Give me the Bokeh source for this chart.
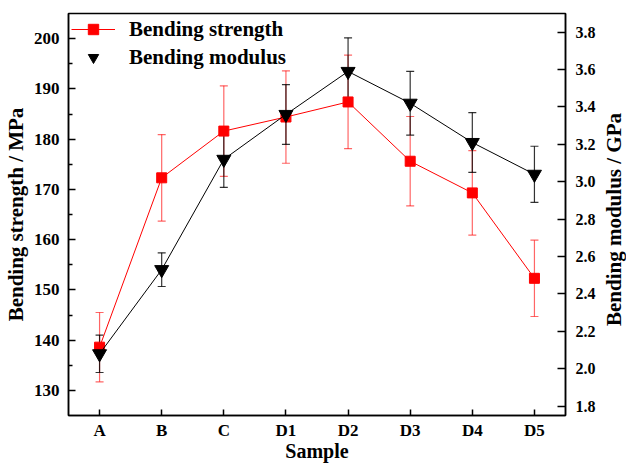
import math
from bokeh.plotting import figure
from bokeh.layouts import row
from bokeh.models import (FactorRange, Range1d, LinearAxis, FixedTicker, Whisker, TeeHead,
                          ColumnDataSource, Legend, LegendItem, PrintfTickFormatter, Div)
from bokeh.embed import file_html
from bokeh.resources import INLINE

samples = ["A", "B", "C", "D1", "D2", "D3", "D4", "D5"]
strength = [138.6, 172.3, 181.6, 184.4, 187.4, 175.6, 169.3, 152.3]
strength_err = [6.9, 8.6, 9.0, 9.2, 9.3, 8.9, 8.4, 7.6]
modulus = [2.08, 2.53, 3.12, 3.36, 3.59, 3.42, 3.21, 3.04]
modulus_err = [0.10, 0.09, 0.15, 0.16, 0.18, 0.17, 0.16, 0.15]
left_ticks = [130, 140, 150, 160, 170, 180, 190, 200]
left_minor = [135, 145, 155, 165, 175, 185, 195]
right_ticks = [1.8, 2.0, 2.2, 2.4, 2.6, 2.8, 3.0, 3.2, 3.4, 3.6, 3.8]

FONT = "Liberation Serif"

p = figure(x_range=FactorRange(*samples), y_range=Range1d(125, 205),
           width=604, height=464, output_backend="svg", toolbar_location=None,
           min_border_left=63, min_border_right=39, min_border_top=13, min_border_bottom=46)
p.extra_y_ranges = {"right": Range1d(1.75, 3.9)}
p.xgrid.visible = False
p.ygrid.visible = False
p.outline_line_color = "black"
p.outline_line_width = 1.5
p.background_fill_color = "white"
p.border_fill_color = "white"

def style_axis(ax, label_size="17px", title_size="21px"):
    ax.axis_line_width = 1.5
    ax.axis_line_color = "black"
    ax.major_tick_line_color = "black"
    ax.major_tick_line_width = 1.5
    ax.minor_tick_line_color = "black"
    ax.minor_tick_line_width = 1.5
    ax.major_tick_out = 0
    ax.minor_tick_out = 0
    ax.major_label_text_font = FONT
    ax.major_label_text_font_style = "bold"
    ax.major_label_text_font_size = label_size
    ax.major_label_text_color = "black"
    ax.axis_label_text_font = FONT
    ax.axis_label_text_font_style = "bold"
    ax.axis_label_text_font_size = title_size
    ax.axis_label_text_color = "black"

# bottom axis
xa = p.xaxis[0]
style_axis(xa, title_size="20px")
xa.axis_label = "Sample"
xa.major_tick_in = 6
xa.major_label_standoff = 5
xa.axis_label_standoff = -3

# left axis
ya = p.yaxis[0]
style_axis(ya)
ya.ticker = FixedTicker(ticks=left_ticks, minor_ticks=left_minor)
ya.axis_label = "Bending strength / MPa"
ya.major_tick_in = 7
ya.minor_tick_in = 4
ya.major_label_standoff = 9
ya.axis_label_standoff = 3

# right axis
ra = LinearAxis(y_range_name="right")
style_axis(ra, "16px")
ra.ticker = FixedTicker(ticks=right_ticks, minor_ticks=[])
ra.formatter = PrintfTickFormatter(format="%.1f")
ra.major_tick_in = 8
ra.minor_tick_in = 0
ra.major_label_standoff = 10
p.add_layout(ra, "right")

# data sources
src_s = ColumnDataSource(dict(x=samples, y=strength,
                              lo=[v - e for v, e in zip(strength, strength_err)],
                              hi=[v + e for v, e in zip(strength, strength_err)]))
src_m = ColumnDataSource(dict(x=samples, y=modulus,
                              lo=[v - e for v, e in zip(modulus, modulus_err)],
                              hi=[v + e for v, e in zip(modulus, modulus_err)]))

RED = "#ff0000"

ws = Whisker(base="x", upper="hi", lower="lo", source=src_s,
             line_color=RED, line_alpha=0.6, line_width=1.2,
             upper_head=TeeHead(size=8, line_color=RED, line_alpha=0.6, line_width=1.2),
             lower_head=TeeHead(size=8, line_color=RED, line_alpha=0.6, line_width=1.2))
p.add_layout(ws)
l_s = p.line("x", "y", source=src_s, line_color=RED, line_width=1)
m_s = p.scatter("x", "y", source=src_s, marker="square", size=10,
                fill_color=RED, line_color=RED)

wm = Whisker(base="x", upper="hi", lower="lo", source=src_m, y_range_name="right",
             line_color="black", line_alpha=0.8, line_width=1.2,
             upper_head=TeeHead(size=8, line_color="black", line_alpha=0.8, line_width=1.2),
             lower_head=TeeHead(size=8, line_color="black", line_alpha=0.8, line_width=1.2))
p.add_layout(wm)
l_m = p.line("x", "y", source=src_m, y_range_name="right", line_color="black", line_width=1)
m_m = p.scatter("x", "y", source=src_m, y_range_name="right", marker="inverted_triangle",
                size=14, fill_color="black", line_color="black")

# legend-only gray line for the modulus item
dummy = p.line(x=[], y=[], line_color="#555555", line_width=1.5)

legend = Legend(items=[
    LegendItem(label="Bending strength", renderers=[l_s, m_s]),
    LegendItem(label="Bending modulus", renderers=[dummy, m_m]),
], location="top_left")
legend.margin = 3
legend.padding = 5
legend.spacing = 2
legend.glyph_width = 44
legend.glyph_height = 26
legend.label_height = 26
legend.label_standoff = 14
legend.label_text_font = FONT
legend.label_text_font_style = "bold"
legend.label_text_font_size = "21px"
legend.label_text_color = "black"
legend.border_line_color = None
legend.background_fill_alpha = 0
p.add_layout(legend)

# right axis title, reading bottom-to-top like the reference
right_title = Div(text="Bending modulus / GPa", width=11, height=430,
                  styles={"writing-mode": "vertical-rl", "transform": "rotate(180deg)",
                          "text-align": "center", "font-family": FONT,
                          "font-weight": "bold", "font-size": "21px",
                          "line-height": "11px", "color": "black",
                          "white-space": "nowrap"})

layout = row(p, right_title)

open("out.html", "w").write(file_html(layout, INLINE))
